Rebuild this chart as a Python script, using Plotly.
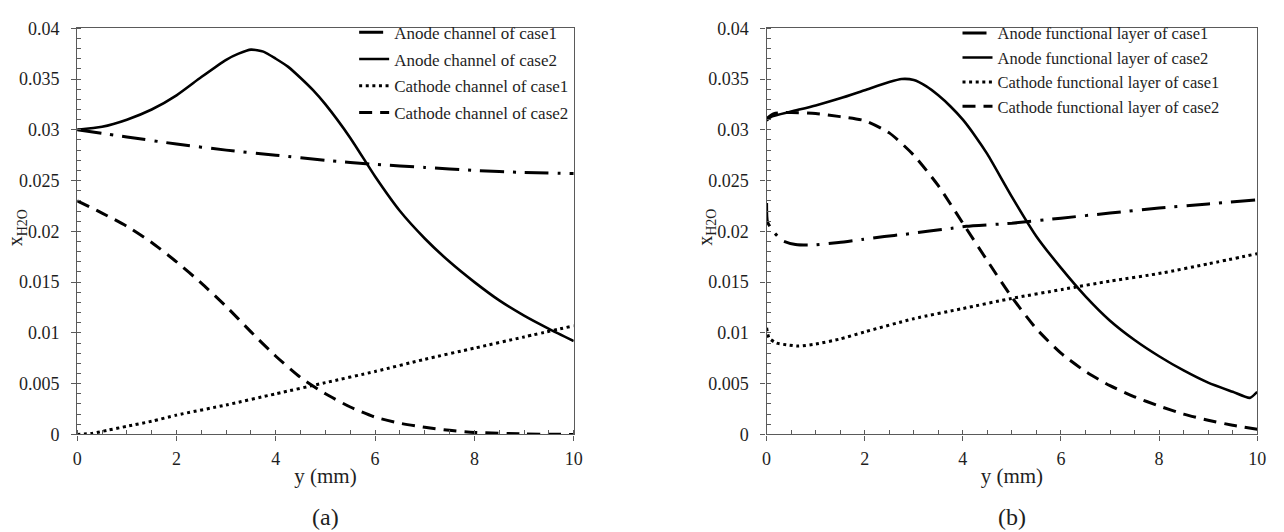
import plotly.graph_objects as go

# ---- panel (a): gas channels ----
a_anode_c1_y = [0, 1, 2, 3, 4, 5, 6, 7, 8, 9, 10]
a_anode_c1 = [0.0300, 0.0293, 0.0286, 0.0280, 0.0275, 0.0270, 0.0266, 0.0263, 0.0260, 0.0258, 0.0257]

a_anode_c2_y = [0, 0.5, 1, 1.5, 2, 2.5, 3, 3.25, 3.5, 3.75, 4, 4.25, 4.5, 4.75, 5, 5.5, 6, 6.5,
                7, 7.5, 8, 8.5, 9, 9.5, 10]
a_anode_c2 = [0.0300, 0.0303, 0.0310, 0.0320, 0.0334, 0.0352, 0.0369, 0.0375, 0.0379, 0.0377,
              0.0370, 0.0362, 0.0351, 0.0339, 0.0325, 0.0292, 0.0254, 0.0220, 0.0193, 0.0170,
              0.0150, 0.0132, 0.0117, 0.0104, 0.0092]

a_cath_c1_y = [0, 0.3, 0.6, 1, 1.5, 2, 3, 4, 5, 6, 7, 8, 9, 10]
a_cath_c1 = [0.0, 0.0001, 0.0004, 0.0008, 0.0013, 0.0019, 0.0029, 0.0040, 0.0051, 0.0062,
             0.0074, 0.0085, 0.0096, 0.0107]

a_cath_c2_y = [0, 0.5, 1, 1.5, 2, 2.5, 3, 3.5, 4, 4.5, 5, 5.5, 6, 6.5, 7, 7.5, 8, 9, 10]
a_cath_c2 = [0.0230, 0.0218, 0.0205, 0.0189, 0.0170, 0.0149, 0.0126, 0.0101, 0.0077, 0.0056,
             0.0040, 0.0027, 0.0017, 0.0011, 0.0007, 0.0004, 0.0002, 0.00005, 0.0]

# ---- panel (b): functional layers ----
b_anode_c1_y = [0, 0.02, 0.155, 0.32, 0.59, 0.93, 1.47, 1.94, 2.4, 2.8, 3.28, 3.78, 4.07,
                5.0, 6.0, 7.0, 8.0, 9.0, 10]
b_anode_c1 = [0.0228, 0.0209, 0.0199, 0.0191, 0.0187, 0.01865, 0.0189, 0.0192, 0.0195, 0.0197,
              0.0200, 0.0203, 0.0205, 0.0208, 0.0213, 0.0218, 0.0223, 0.0227, 0.0231]

b_anode_c2_y = [0, 0.1, 0.5, 1.0, 1.5, 2.0, 2.5, 2.75, 3.0, 3.25, 3.5, 3.75, 4.0, 4.25, 4.5,
                5.0, 5.5, 6.0, 6.5, 7.0, 7.5, 8.0, 8.5, 9.0, 9.5, 9.85, 10]
b_anode_c2 = [0.0309, 0.0313, 0.0318, 0.0324, 0.0331, 0.0339, 0.0347, 0.0350, 0.0349, 0.0343,
              0.0334, 0.0323, 0.0310, 0.0294, 0.0276, 0.0234, 0.0195, 0.0164, 0.0136, 0.0112,
              0.0093, 0.0077, 0.0063, 0.0051, 0.0042, 0.0036, 0.0042]

b_cath_c1_y = [0, 0.05, 0.2, 0.45, 0.65, 1.0, 1.5, 2.0, 3.0, 4.0, 5.0, 6.05, 7.0, 8.06, 9.0, 10]
b_cath_c1 = [0.0105, 0.0095, 0.0090, 0.0088, 0.0087, 0.0089, 0.0094, 0.0101, 0.0114, 0.0124,
             0.0134, 0.0143, 0.0151, 0.0159, 0.0168, 0.0178]

b_cath_c2_y = [0, 0.15, 0.5, 1.0, 1.5, 2.0, 2.5, 3.0, 3.5, 4.0, 4.5, 5.0, 5.5, 6.0, 6.5, 7.0,
               7.5, 8.0, 8.5, 9.0, 9.5, 10]
b_cath_c2 = [0.0311, 0.0316, 0.0317, 0.0316, 0.0313, 0.0309, 0.0297, 0.0275, 0.0245, 0.0208,
             0.0171, 0.0135, 0.0104, 0.0080, 0.0062, 0.0048, 0.0037, 0.0028, 0.0020, 0.0014,
             0.0009, 0.0005]

names_a = ["Anode channel of case1", "Anode channel of case2",
           "Cathode channel of case1", "Cathode channel of case2"]
names_b = ["Anode functional layer of case1", "Anode functional layer of case2",
           "Cathode functional layer of case1", "Cathode functional layer of case2"]

y_tick_vals = [0, 0.005, 0.01, 0.015, 0.02, 0.025, 0.03, 0.035, 0.04]
y_tick_text = ["0", "0.005", "0.01", "0.015", "0.02", "0.025", "0.03", "0.035", "0.04"]
x_tick_vals = [0, 2, 4, 6, 8, 10]
x_tick_text = ["0", "2", "4", "6", "8", "10"]

FONT = "Liberation Serif"
AXIS = "#5a5a5a"
INK = "#1e1e1e"

styles = [
    dict(width=3, dash="24px,9px,3px,9px"),
    dict(width=2.6, dash="solid"),
    dict(width=3, dash="3px,3.6px"),
    dict(width=3, dash="13px,8px"),
]

fig = go.Figure()

panel_a = [(a_anode_c1_y, a_anode_c1), (a_anode_c2_y, a_anode_c2),
           (a_cath_c1_y, a_cath_c1), (a_cath_c2_y, a_cath_c2)]
panel_b = [(b_anode_c1_y, b_anode_c1), (b_anode_c2_y, b_anode_c2),
           (b_cath_c1_y, b_cath_c1), (b_cath_c2_y, b_cath_c2)]

for i, ((xs, vs), nm) in enumerate(zip(panel_a, names_a)):
    fig.add_trace(go.Scatter(
        x=xs, y=vs, name=nm, mode="lines", xaxis="x", yaxis="y",
        line=dict(color="black", shape="spline", smoothing=0.6, **styles[i]),
        legend="legend", legendgroup=f"a{i}", hoverinfo="skip"))

for i, ((xs, vs), nm) in enumerate(zip(panel_b, names_b)):
    fig.add_trace(go.Scatter(
        x=xs, y=vs, name=nm, mode="lines", xaxis="x2", yaxis="y2",
        line=dict(color="black", shape="spline", smoothing=0.6, **styles[i]),
        legend="legend2", legendgroup=f"b{i}", hoverinfo="skip"))

W, H = 1284, 532
y_dom = [1 - 441 / H, 1 - 19 / H]


def xaxis_cfg(dom, anchor):
    return dict(
        domain=dom, anchor=anchor, range=[0, 10],
        tickmode="array", tickvals=x_tick_vals, ticktext=x_tick_text,
        ticks="outside", ticklen=5, tickwidth=1.3, tickcolor=AXIS,
        minor=dict(dtick=0.5, tick0=0, ticks="inside", ticklen=4, tickwidth=1.2, tickcolor=AXIS),
        showline=True, linecolor=AXIS, linewidth=1.4, mirror=True,
        showgrid=False, zeroline=False, ticklabelstandoff=3,
        tickfont=dict(family=FONT, size=18, color=INK),
        title=dict(text="y (mm)", font=dict(family=FONT, size=21, color=INK), standoff=0),
    )


def yaxis_cfg(anchor):
    return dict(
        domain=y_dom, anchor=anchor, range=[0, 0.04],
        tickmode="array", tickvals=y_tick_vals, ticktext=y_tick_text,
        ticks="outside", ticklen=5, tickwidth=1.3, tickcolor=AXIS,
        minor=dict(dtick=0.001, tick0=0, ticks="inside", ticklen=4, tickwidth=1.2, tickcolor=AXIS),
        showline=True, linecolor=AXIS, linewidth=1.4, mirror=True,
        showgrid=False, zeroline=False, ticklabelstandoff=8,
        tickfont=dict(family=FONT, size=18, color=INK),
    )


legend_common = dict(
    xanchor="left", yanchor="top", orientation="v",
    bgcolor="rgba(0,0,0,0)", borderwidth=0,
)

ytitle = "x<sub>H2O</sub>"
annotations = [
    dict(text=ytitle, x=12 / W, y=1 - 226 / H, textangle=-90),
    dict(text=ytitle, x=709 / W, y=1 - 226 / H, textangle=-90),
    dict(text="(a)", x=324 / W, y=1 - 527 / H, font=dict(family=FONT, size=24, color=INK)),
    dict(text="(b)", x=1018 / W, y=1 - 527 / H, font=dict(family=FONT, size=24, color=INK)),
]
for ann in annotations:
    ann.update(xref="paper", yref="paper", xanchor="center", yanchor="middle", showarrow=False)
    ann.setdefault("font", dict(family=FONT, size=20, color=INK))

fig.update_layout(
    width=W, height=H,
    margin=dict(l=0, r=0, t=0, b=0),
    paper_bgcolor="white", plot_bgcolor="white",
    xaxis=xaxis_cfg([73 / W, 575 / W], "y"),
    yaxis=yaxis_cfg("x"),
    xaxis2=xaxis_cfg([770 / W, 1266 / W], "y2"),
    yaxis2=yaxis_cfg("x2"),
    legend=dict(x=353 / W, y=1 - 5 / H, tracegroupgap=1.6,
                font=dict(family=FONT, size=17, color=INK), **legend_common),
    legend2=dict(x=963 / W, y=1 - 6 / H, tracegroupgap=0,
                 font=dict(family=FONT, size=16.5, color=INK), **legend_common),
    annotations=annotations,
    showlegend=True,
)

fig.write_html("out.html")
